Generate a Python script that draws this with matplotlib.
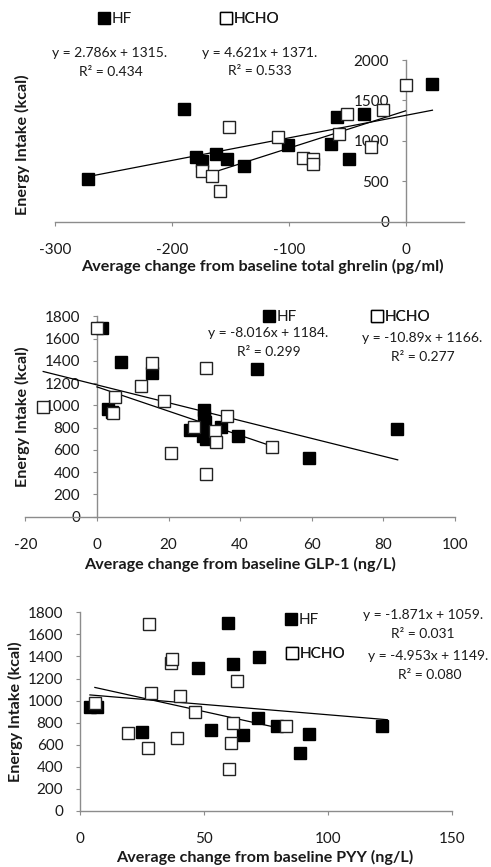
import matplotlib
matplotlib.use('Agg')
import numpy as np
import matplotlib.pyplot as plt
from matplotlib.lines import Line2D

plt.rcParams['font.family'] = ['Lato', 'DejaVu Sans']
plt.rcParams['axes.unicode_minus'] = False

W, H = 491, 867

# ---- panel 1: total ghrelin ----
ghr_hf_x = [-272, -190, -179, -174, -162, -153, -138, -101, -64, -59, -48, -36, 23]
ghr_hf_y = [528, 1394, 804, 750, 837, 771, 693, 944, 961, 1299, 771, 1328, 1703]
ghr_hc_x = [-174, -166, -159, -151, -109, -88, -79, -79, -57, -50, -30, -19, 0]
ghr_hc_y = [623, 565, 384, 1175, 1043, 792, 771, 709, 1080, 1332, 928, 1381, 1691]
ghr_fit = {'hf': (2.786, 1315, [-272, 23]), 'hc': (4.621, 1371, [-172, 0])}

# ---- panel 2: GLP-1 ----
glp_hf_x = [1.3, 3.2, 4.1, 6.7, 15.4, 26.0, 30.0, 30.0, 30.3, 30.0, 29.7, 30.6, 34.7, 39.5, 44.6, 59.3, 83.7]
glp_hf_y = [1698, 967, 943, 1393, 1291, 779, 958, 898, 853, 809, 728, 695, 809, 728, 1327, 524, 785]
glp_hc_x = [-15, 0, 5, 4.6, 12.2, 15.3, 18.6, 20.6, 27.2, 30.6, 30.6, 33, 33.3, 36.2, 49]
glp_hc_y = [982, 1692, 1078, 934, 1177, 1378, 1042, 572, 803, 1339, 380, 767, 674, 907, 623]
glp_fit = {'hf': (-8.016, 1184, [-15, 84]), 'hc': (-10.89, 1166, [0, 49])}

# ---- panel 3: PYY ----
pyy_hf_x = [4.0, 6.7, 24.9, 47.5, 52.7, 59.9, 61.9, 65.9, 72.0, 72.4, 79.4, 88.8, 92.6, 121.8]
pyy_hf_y = [945, 945, 719, 1293, 734, 1700, 1329, 689, 840, 1392, 770, 523, 698, 773]
pyy_hc_x = [6.1, 19.5, 27.3, 27.8, 28.7, 36.6, 37.0, 39.0, 40.4, 46.4, 60.3, 60.9, 61.6, 63.5, 83.1]
pyy_hc_y = [982, 704, 568, 1691, 1072, 1338, 1377, 664, 1042, 900, 378, 619, 794, 1178, 773]
pyy_fit = {'hf': (-1.871, 1059, [4, 124]), 'hc': (-4.953, 1149, [6, 83])}

AXC = '#8c8c8c'
TXC = '#1a1a1a'
LBL = 11.6   # axis title size


def fx(px):
    return px / W


def fy(py):
    return 1 - py / H


def panel(rect, hfx, hfy, hcx, hcy, fit, xlim, ylim, xticks, yticks):
    ax = fig.add_axes(rect)
    for k, (m, b, rng) in fit.items():
        xs = np.array(rng, dtype=float)
        ax.plot(xs, m * xs + b, color='black', lw=0.9, zorder=3)
    ax.plot(hfx, hfy, 's', ms=9, mfc='black', mec='black', mew=1, ls='none', clip_on=False, zorder=4)
    ax.plot(hcx, hcy, 's', ms=9, mfc='white', mec='#222222', mew=1, ls='none', clip_on=False, zorder=4)
    ax.set_xlim(xlim)
    ax.set_ylim(ylim)
    ax.set_xticks(xticks)
    ax.set_yticks(yticks)
    ax.spines['left'].set_position(('data', 0))
    ax.spines['bottom'].set_position(('data', 0))
    for s in ['top', 'right']:
        ax.spines[s].set_visible(False)
    for s in ['left', 'bottom']:
        ax.spines[s].set_color(AXC)
        ax.spines[s].set_linewidth(1)
    ax.tick_params(axis='y', length=3, color=AXC, pad=9, labelsize=11, labelcolor=TXC)
    ax.tick_params(axis='x', length=3, color=AXC, pad=12, labelsize=11, labelcolor=TXC)
    ax.patch.set_alpha(0)
    return ax


def legend_at(ax, face, label, px, py):
    h = Line2D([], [], marker='s', ls='none', ms=8, mfc=face, mec='black', mew=1)
    lg = ax.legend(handles=[h], labels=[label], loc='center left',
                   bbox_to_anchor=(fx(px), fy(py)), bbox_transform=fig.transFigure,
                   frameon=False, handlelength=0.7, handletextpad=0.15,
                   borderpad=0, borderaxespad=0, fontsize=11)
    for t in lg.get_texts():
        t.set_color(TXC)
    ax.add_artist(lg)


def eq_text(px, py, s):
    fig.text(fx(px), fy(py), s, ha='center', va='center', fontsize=10, color=TXC)


def titles(xpx, ypx, xs, ylx, yly):
    fig.text(fx(xpx), fy(ypx), xs, ha='center', va='center',
             fontsize=LBL, fontweight='bold', color=TXC)
    fig.text(fx(ylx), fy(yly), 'Energy Intake (kcal)', rotation=90, ha='center', va='center',
             fontsize=LBL, fontweight='bold', color=TXC)


fig = plt.figure(figsize=(W / 100, H / 100), dpi=100)

# panel 1
ax1 = panel([fx(55), fy(221.7), 409 / W, 161.7 / H], ghr_hf_x, ghr_hf_y, ghr_hc_x, ghr_hc_y,
            ghr_fit, (-300, 50), (0, 2000), [-300, -200, -100, 0], [0, 500, 1000, 1500, 2000])
legend_at(ax1, 'black', 'HF', 99, 19)
legend_at(ax1, 'white', 'HCHO', 221, 19)
eq_text(110, 53, 'y = 2.786x + 1315.')
eq_text(111, 72, 'R² = 0.434')
eq_text(260, 53, 'y = 4.621x + 1371.')
eq_text(260, 71, 'R² = 0.533')
titles(262, 266, 'Average change from baseline total ghrelin (pg/ml)', 22, 145)

# panel 2
ax2 = panel([fx(25.3), fy(516.7), 429.7 / W, 200.4 / H], glp_hf_x, glp_hf_y, glp_hc_x, glp_hc_y,
            glp_fit, (-20, 100), (0, 1800), list(range(-20, 101, 20)), list(range(0, 1801, 200)))
legend_at(ax2, 'black', 'HF', 264, 317)
legend_at(ax2, 'white', 'HCHO', 372, 317)
eq_text(268, 333, 'y = -8.016x + 1184.')
eq_text(269, 352, 'R² = 0.299')
eq_text(422, 338, 'y = -10.89x + 1166.')
eq_text(423, 357, 'R² = 0.277')
titles(240, 564, 'Average change from baseline GLP-1 (ng/L)', 22, 417)

# panel 3
ax3 = panel([fx(80), fy(811), 371.7 / W, 198.7 / H], pyy_hf_x, pyy_hf_y, pyy_hc_x, pyy_hc_y,
            pyy_fit, (0, 150), (0, 1800), [0, 50, 100, 150], list(range(0, 1801, 200)))
legend_at(ax3, 'black', 'HF', 286, 620)
legend_at(ax3, 'white', 'HCHO', 287, 654)
eq_text(423, 615, 'y = -1.871x + 1059.')
eq_text(423, 634, 'R² = 0.031')
eq_text(428, 656, 'y = -4.953x + 1149.')
eq_text(430, 675, 'R² = 0.080')
titles(265, 857, 'Average change from baseline PYY (ng/L)', 15, 712)

fig.savefig('out.png', dpi=100)
